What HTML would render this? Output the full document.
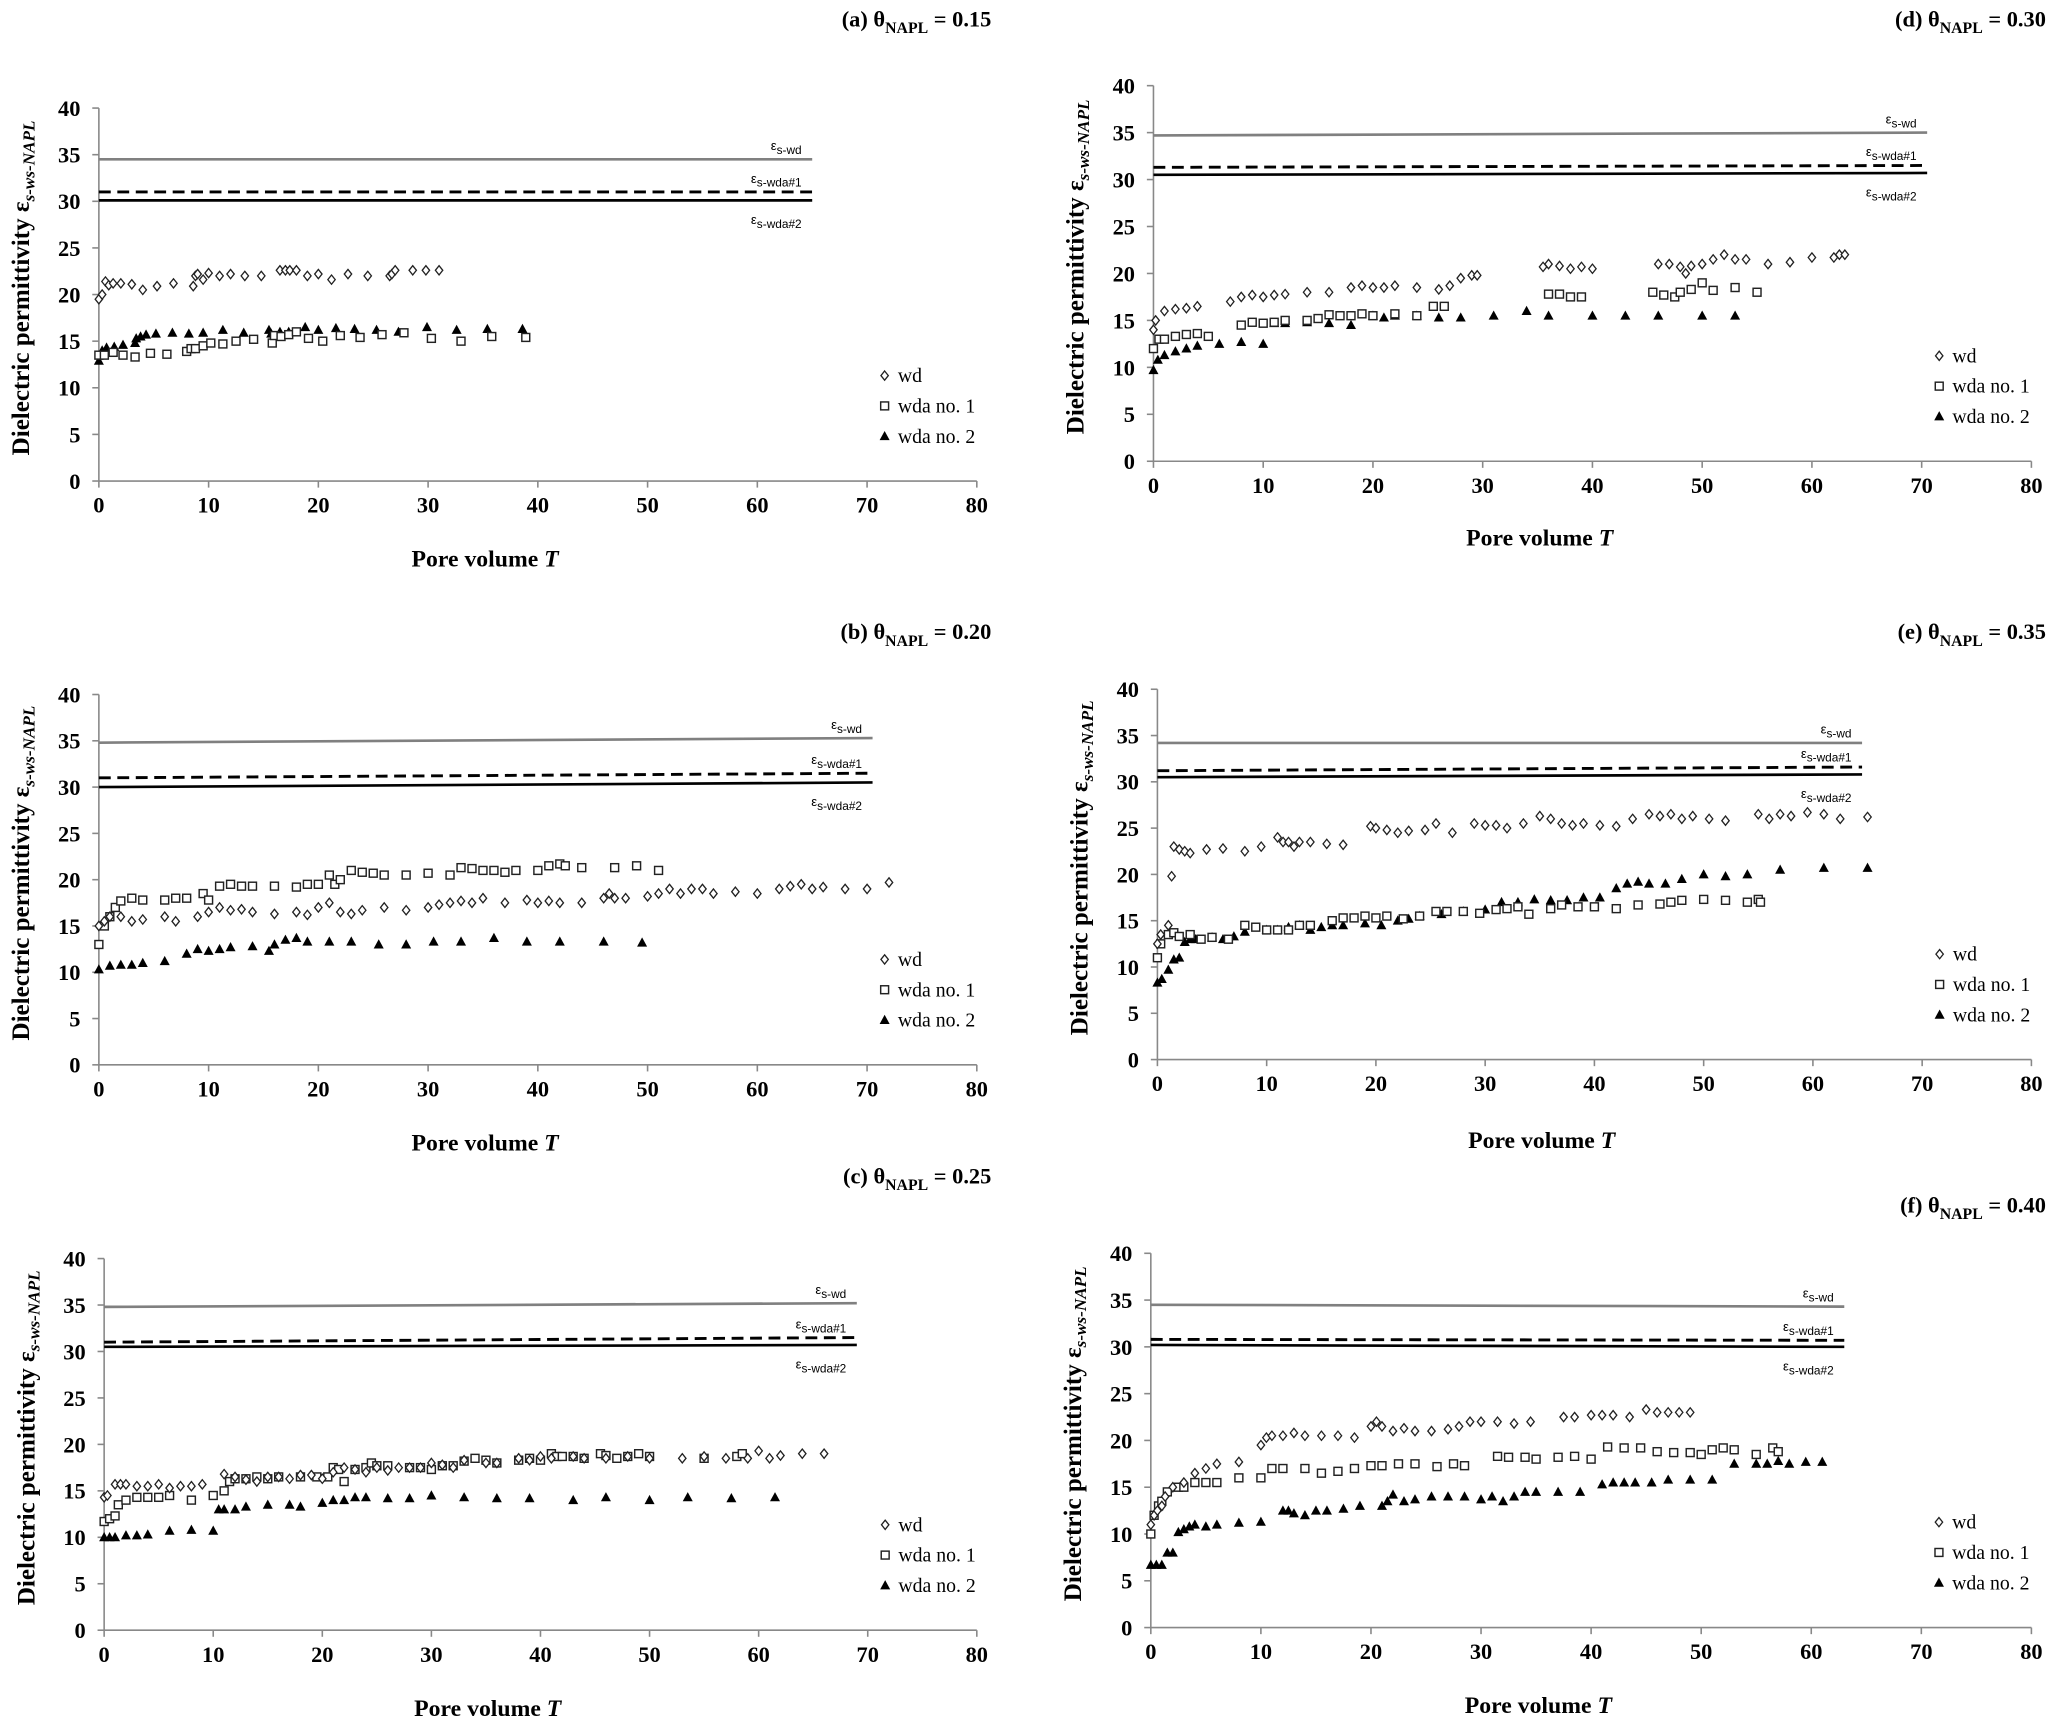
<!DOCTYPE html>
<html><head><meta charset="utf-8"><style>
html,body{margin:0;padding:0;background:#fff;}
svg{display:block;}
text{font-family:"Liberation Serif",serif;}
text.sans{font-family:"Liberation Sans",sans-serif;}
</style></head><body>
<svg id="fig" xmlns="http://www.w3.org/2000/svg" width="2067" height="1733" viewBox="0 0 1568 1315" preserveAspectRatio="none"></svg>
<script>
const xTicks=[0,10,20,30,40,50,60,70,80];
const yTicks=[0,5,10,15,20,25,30,35,40];
const seriesNames=["wd","wda no. 1","wda no. 2"];
// panel a
const a_wd=[[0,19.5],[0.3,20],[0.6,21.4],[0.9,21],[1.3,21.2],[2,21.2],[3,21.1],[4,20.5],[5.3,20.9],[6.8,21.2],[8.6,20.9],[8.8,22],[9,22.2],[9.5,21.6],[10,22.3],[11,22],[12,22.2],[13.3,22],[14.8,22],[16.5,22.6],[17,22.6],[17.4,22.6],[18,22.6],[19,22],[20,22.2],[21.2,21.6],[22.7,22.2],[24.5,22],[26.5,22],[26.7,22.2],[27,22.6],[28.6,22.6],[29.8,22.6],[31,22.6]];
const a_w1=[[0,13.5],[0.5,13.5],[1.3,13.8],[2.2,13.5],[3.3,13.3],[4.7,13.7],[6.2,13.6],[8,13.9],[8.4,14.2],[8.8,14.2],[9.5,14.5],[10.2,14.8],[11.3,14.7],[12.5,15],[14.1,15.2],[15.8,14.8],[16,15.6],[16.6,15.5],[17.3,15.7],[18,16],[19.1,15.3],[20.4,15],[22,15.6],[23.8,15.4],[25.8,15.7],[27.8,15.9],[30.3,15.3],[33,15],[35.8,15.5],[38.9,15.4]];
const a_w2=[[0,12.9],[0.3,14],[0.7,14.3],[1.4,14.4],[2.2,14.6],[3.3,14.8],[3.4,15.3],[3.8,15.5],[4.3,15.7],[5.2,15.8],[6.7,15.9],[8.2,15.8],[9.5,15.9],[11.3,16.2],[13.2,15.9],[15.5,16.2],[15.7,15.8],[16.5,16],[17.3,16],[18.8,16.5],[20,16.2],[21.6,16.4],[23.3,16.3],[25.3,16.2],[27.3,16],[29.9,16.5],[32.6,16.2],[35.4,16.3],[38.6,16.3]];
const a_ref=[[65,34.5,34.5],[65,31,31],[65,30.1,30.1]];
// panel d
const d_wd=[[0,14],[0.2,15],[1,16],[2,16.2],[3,16.3],[4,16.5],[7,17],[8,17.5],[9,17.7],[10,17.5],[11,17.7],[12,17.8],[14,18],[16,18],[18,18.5],[19,18.7],[20,18.5],[21,18.5],[22,18.7],[24,18.5],[26,18.3],[27,18.7],[28,19.5],[29,19.8],[29.5,19.8],[35.5,20.7],[36,21],[37,20.8],[38,20.5],[39,20.7],[40,20.5],[46,21],[47,21],[48,20.7],[48.5,20],[49,20.8],[50,21],[51,21.5],[52,22],[53,21.5],[54,21.5],[56,21],[58,21.2],[60,21.7],[62,21.7],[62.5,22],[63,22]];
const d_w1=[[0,12],[0.5,13],[1,13],[2,13.3],[3,13.5],[4,13.6],[5,13.3],[8,14.5],[9,14.8],[10,14.7],[11,14.8],[12,15],[14,15],[15,15.2],[16,15.6],[17,15.5],[18,15.5],[19,15.7],[20,15.5],[22,15.7],[24,15.5],[25.5,16.5],[26.5,16.5],[36,17.8],[37,17.8],[38,17.5],[39,17.5],[45.5,18],[46.5,17.7],[47.5,17.5],[48,18],[49,18.3],[50,19],[51,18.2],[53,18.5],[55,18]];
const d_w2=[[0,9.7],[0.4,10.8],[1,11.3],[2,11.7],[3,12],[4,12.3],[6,12.5],[8,12.7],[10,12.5],[11,14.7],[12,14.7],[14,14.8],[16,14.7],[18,14.5],[20,15.5],[21,15.3],[22,15.5],[24,15.5],[26,15.3],[28,15.3],[31,15.5],[34,16],[36,15.5],[40,15.5],[43,15.5],[46,15.5],[50,15.5],[53,15.5]];
const d_ref=[[70.5,34.7,35],[70.5,31.3,31.5],[70.5,30.5,30.7]];
// panel b
const b_wd=[[0,15],[0.5,15.5],[1,16],[2,16],[3,15.5],[4,15.7],[6,16],[7,15.5],[9,16],[10,16.5],[11,17],[12,16.7],[13,16.8],[14,16.5],[16,16.3],[18,16.5],[19,16.2],[20,17],[21,17.5],[22,16.5],[23,16.3],[24,16.7],[26,17],[28,16.7],[30,17],[31,17.3],[32,17.5],[33,17.7],[34,17.5],[35,18],[37,17.5],[39,17.8],[40,17.5],[41,17.7],[42,17.5],[44,17.5],[46,18],[46.5,18.5],[47,18],[48,18],[50,18.2],[51,18.5],[52,19],[53,18.5],[54,19],[55,19],[56,18.5],[58,18.7],[60,18.5],[62,19],[63,19.3],[64,19.5],[65,19],[66,19.2],[68,19],[70,19],[72,19.7]];
const b_w1=[[0,13],[0.5,15],[1,16],[1.5,17],[2,17.7],[3,18],[4,17.8],[6,17.8],[7,18],[8,18],[9.5,18.5],[10,17.8],[11,19.3],[12,19.5],[13,19.3],[14,19.3],[16,19.3],[18,19.2],[19,19.5],[20,19.5],[21,20.5],[21.5,19.5],[22,20],[23,21],[24,20.8],[25,20.7],[26,20.5],[28,20.5],[30,20.7],[32,20.5],[33,21.3],[34,21.2],[35,21],[36,21],[37,20.8],[38,21],[40,21],[41,21.5],[42,21.7],[42.5,21.5],[44,21.3],[47,21.3],[49,21.5],[51,21]];
const b_w2=[[0,10.3],[1,10.7],[2,10.8],[3,10.8],[4,11],[6,11.2],[8,12],[9,12.5],[10,12.3],[11,12.5],[12,12.7],[14,12.8],[15.5,12.3],[16,13],[17,13.5],[18,13.7],[19,13.3],[21,13.3],[23,13.3],[25.5,13],[28,13],[30.5,13.3],[33,13.3],[36,13.7],[39,13.3],[42,13.3],[46,13.3],[49.5,13.2]];
const b_ref=[[70.5,34.8,35.3],[70.5,31,31.5],[70.5,30,30.5]];
// panel e
const e_wd=[[0,12.5],[0.3,13.5],[1,14.5],[1.3,19.8],[1.5,23],[2,22.7],[2.5,22.5],[3,22.3],[4.5,22.7],[6,22.8],[8,22.5],[9.5,23],[11,24],[11.5,23.5],[12,23.5],[12.5,23],[13,23.5],[14,23.5],[15.5,23.3],[17,23.2],[19.5,25.2],[20,25],[21,24.8],[22,24.5],[23,24.7],[24.5,24.8],[25.5,25.5],[27,24.5],[29,25.5],[30,25.3],[31,25.3],[32,25],[33.5,25.5],[35,26.3],[36,26],[37,25.5],[38,25.3],[39,25.5],[40.5,25.3],[42,25.2],[43.5,26],[45,26.5],[46,26.3],[47,26.5],[48,26],[49,26.3],[50.5,26],[52,25.8],[55,26.5],[56,26],[57,26.5],[58,26.3],[59.5,26.7],[61,26.5],[62.5,26],[65,26.2]];
const e_w1=[[0,11],[0.3,12.5],[1,13.5],[1.5,13.7],[2,13.3],[3,13.5],[4,13],[5,13.2],[6.5,13],[8,14.5],[9,14.3],[10,14],[11,14],[12,14],[13,14.5],[14,14.5],[16,15],[17,15.3],[18,15.3],[19,15.5],[20,15.3],[21,15.5],[22.5,15.2],[24,15.5],[25.5,16],[26.5,16],[28,16],[29.5,15.8],[31,16.2],[32,16.3],[33,16.5],[34,15.7],[36,16.3],[37,16.7],[38.5,16.5],[40,16.5],[42,16.3],[44,16.7],[46,16.8],[47,17],[48,17.2],[50,17.3],[52,17.2],[54,17],[55,17.3],[55.2,17]];
const e_w2=[[0,8.3],[0.4,8.7],[1,9.7],[1.5,10.8],[2,11],[2.5,12.7],[3,13],[3.5,13],[5,13.2],[6,13],[7,13.3],[8,13.8],[10,14],[11,14],[12,14.3],[13,14.5],[14,14],[15,14.3],[16,14.5],[17,14.5],[19,14.7],[20.5,14.5],[22,15],[23,15.2],[24,15.5],[26,15.7],[28,16],[30,16.2],[31.5,17],[33,17],[34.5,17.3],[36,17.2],[37.5,17.2],[39,17.5],[40.5,17.5],[42,18.5],[43,19],[44,19.2],[45,19],[46.5,19],[48,19.5],[50,20],[52,19.8],[54,20],[57,20.5],[61,20.7],[65,20.7]];
const e_ref=[[64.5,34.2,34.2],[64.5,31.2,31.6],[64.5,30.5,30.8]];
// panel c
const c_wd=[[0,14.3],[0.3,14.5],[1,15.7],[1.5,15.7],[2,15.7],[3,15.5],[4,15.5],[5,15.7],[6,15.3],[7,15.5],[8,15.5],[9,15.7],[11,16.8],[12,16.5],[13,16.2],[14,16],[15,16.5],[16,16.5],[17,16.3],[18,16.7],[19,16.7],[20,16.3],[21,17],[22,17.5],[23,17.3],[24,17],[25,17.5],[26,17.2],[27,17.5],[28,17.5],[29,17.5],[30,18],[31,17.8],[32,17.5],[33,18.3],[35,18],[36,18],[38,18.5],[39,18.3],[40,18.7],[41,18.5],[43,18.7],[44,18.5],[46,18.5],[48,18.7],[50,18.5],[53,18.5],[55,18.7],[57,18.5],[59,18.5],[60,19.3],[61,18.5],[62,18.8],[64,19],[66,19]];
const c_w1=[[0,11.7],[0.5,12],[1,12.3],[1.3,13.5],[2,14],[3,14.3],[4,14.3],[5,14.3],[6,14.5],[8,14],[10,14.5],[11,15],[11.5,16],[12,16.3],[13,16.3],[14,16.5],[15,16.3],[16,16.5],[18,16.5],[19.5,16.5],[20.5,16.5],[21,17.5],[21.5,17.3],[22,16],[23,17.3],[24,17.5],[24.5,18],[25,17.7],[26,17.7],[28,17.5],[29,17.5],[30,17.3],[31,17.7],[32,17.7],[33,18.2],[34,18.5],[35,18.3],[36,18],[38,18.3],[39,18.5],[40,18.3],[41,19],[41.5,18.7],[42,18.7],[43,18.7],[44,18.5],[45.5,19],[46,18.8],[47,18.5],[48,18.7],[49,19],[50,18.7],[55,18.5],[58,18.7],[58.5,19]];
const c_w2=[[0,10],[0.5,10],[1,10],[2,10.2],[3,10.2],[4,10.3],[6,10.7],[8,10.8],[10,10.7],[10.5,13],[11,13],[12,13],[13,13.3],[15,13.5],[17,13.5],[18,13.3],[20,13.7],[21,14],[22,14],[23,14.3],[24,14.3],[26,14.2],[28,14.2],[30,14.5],[33,14.3],[36,14.2],[39,14.2],[43,14],[46,14.3],[50,14],[53.5,14.3],[57.5,14.2],[61.5,14.3]];
const c_ref=[[69,34.8,35.2],[69,31,31.5],[69,30.5,30.7]];
// panel f
const f_wd=[[0,11],[0.3,12],[0.6,12.5],[1,13],[1.3,14],[2,15],[3,15.5],[4,16.5],[5,17],[6,17.5],[8,17.7],[10,19.5],[10.5,20.3],[11,20.5],[12,20.5],[13,20.8],[14,20.5],[15.5,20.5],[17,20.5],[18.5,20.3],[20,21.5],[20.5,22],[21,21.5],[22,21],[23,21.3],[24,21],[25.5,21],[27,21.2],[28,21.5],[29,22],[30,22],[31.5,22],[33,21.8],[34.5,22],[37.5,22.5],[38.5,22.5],[40,22.7],[41,22.7],[42,22.7],[43.5,22.5],[45,23.3],[46,23],[47,23],[48,23],[49,23]];
const f_w1=[[0,10],[0.3,12],[0.7,13],[1,13.5],[1.5,14.5],[2.5,15],[3,15],[4,15.5],[5,15.5],[6,15.5],[8,16],[10,16],[11,17],[12,17],[14,17],[15.5,16.5],[17,16.7],[18.5,17],[20,17.3],[21,17.3],[22.5,17.5],[24,17.5],[26,17.2],[27.5,17.5],[28.5,17.3],[31.5,18.3],[32.5,18.2],[34,18.2],[35,18],[37,18.2],[38.5,18.3],[40,18],[41.5,19.3],[43,19.2],[44.5,19.2],[46,18.8],[47.5,18.7],[49,18.7],[50,18.5],[51,19],[52,19.2],[53,19],[55,18.5],[56.5,19.2],[57,18.8]];
const f_w2=[[0,6.7],[0.5,6.7],[1,6.7],[1.5,8],[2,8],[2.5,10.2],[3,10.5],[3.5,10.8],[4,11],[5,10.8],[6,11],[8,11.2],[10,11.3],[12,12.5],[12.5,12.5],[13,12.2],[14,12],[15,12.5],[16,12.5],[17.5,12.7],[19,13],[21,13],[21.5,13.5],[22,14.2],[23,13.5],[24,13.7],[25.5,14],[27,14],[28.5,14],[30,13.7],[31,14],[32,13.5],[33,14],[34,14.5],[35,14.5],[37,14.5],[39,14.5],[41,15.3],[42,15.5],[43,15.5],[44,15.5],[45.5,15.5],[47,15.8],[49,15.8],[51,15.8],[53,17.5],[55,17.5],[56,17.5],[57,17.8],[58,17.5],[59.5,17.7],[61,17.7]];
const f_ref=[[63,34.5,34.3],[63,30.8,30.7],[63,30.2,30]];

const NS="http://www.w3.org/2000/svg";
const svg=document.getElementById('fig');
function el(tag,attrs,parent,txt){const e=document.createElementNS(NS,tag);for(const k in attrs)e.setAttribute(k,attrs[k]);if(txt!==undefined)e.textContent=txt;(parent||svg).appendChild(e);return e;}

function panel(id,letter,theta,L,R,B,T,titleY,xlabY,wd,w1,w2,ref){
  const g=el('g',{});
  
  
  const sx=v=>L+(R-L)*v/80, sy=v=>B-(B-T)*v/40;
  const t=el('text',{x:R+11,y:titleY,'text-anchor':'end','font-size':17,'font-weight':'bold'},g);
  
  
  el('tspan',{},t,'('+letter+') θ');
  el('tspan',{'font-size':12,dy:5},t,'NAPL');
  el('tspan',{dy:-5},t,' = '+theta);
  const ax=el('g',{stroke:'#888','stroke-width':1.2},g);
  
  
  el('line',{x1:L,y1:T,x2:L,y2:B},ax);
  el('line',{x1:L,y1:B,x2:R,y2:B},ax);
  yTicks.forEach(v=>{
    el('line',{x1:L-5,y1:sy(v),x2:L,y2:sy(v)},ax);
    const tx=el('text',{x:L-14,y:sy(v)+6,'text-anchor':'end','font-size':17,'font-weight':'bold',fill:'#000'},g,String(v));
    
    
  });
  xTicks.forEach(v=>{
    el('line',{x1:sx(v),y1:B,x2:sx(v),y2:B+5},ax);
    const tx=el('text',{x:sx(v),y:B+24,'text-anchor':'middle','font-size':17,'font-weight':'bold',fill:'#000'},g,String(v));
    
    
  });
  const xl=el('text',{x:(L+R)/2-40,y:xlabY,'text-anchor':'middle','font-size':18,'font-weight':'bold'},g);
  
  
  el('tspan',{},xl,'Pore volume ');
  el('tspan',{'font-style':'italic'},xl,'T');
  const cy=(T+B)/2-5;
  const yl=el('text',{transform:`translate(${L-53},${cy}) rotate(-90)`,'text-anchor':'middle','font-size':19,'font-weight':'bold'},g);
  
  
  el('tspan',{},yl,'Dielectric permittivity  ε');
  el('tspan',{'font-size':13,dy:4,'font-style':'italic'},yl,'s-ws-NAPL');
  const refStyles=[{stroke:'#808080','stroke-width':2},{stroke:'#000','stroke-width':2.2,'stroke-dasharray':'9,5'},{stroke:'#000','stroke-width':2}];
  const refLabels=['s-wd','s-wda#1','s-wda#2'];
  const refNames=['ref-line-wd','ref-line-wda1','ref-line-wda2'];
  ref.forEach((r,i)=>{
    const ln=el('line',Object.assign({x1:sx(0),y1:sy(r[1]),x2:sx(r[0]),y2:sy(r[2])},refStyles[i]),g);
    
    
    const ly=i<2?sy(r[2])-7:sy(r[2])+18;
    const lt=el('text',{x:sx(r[0])-8,y:ly,'text-anchor':'end','font-size':10,'class':'sans'},g);
    
    
    el('tspan',{},lt,'ε');
    el('tspan',{'font-size':9,dy:3},lt,refLabels[i]);
  });
  function marker(kind,x,y,parent){
    if(kind===0) return el('path',{d:`M${x},${y-3.5}L${x+2.8},${y}L${x},${y+3.5}L${x-2.8},${y}Z`,fill:'#fff',stroke:'#222','stroke-width':1},parent);
    if(kind===1) return el('rect',{x:x-3,y:y-3,width:6,height:6,fill:'#fff',stroke:'#222','stroke-width':1.1},parent);
    return el('path',{d:`M${x},${y-4}L${x+3.8},${y+3}L${x-3.8},${y+3}Z`,fill:'#000'},parent);
  }
  const sers=[w2,w1,wd];const kinds=[2,1,0];const snames=['series-wda2','series-wda1','series-wd'];
  sers.forEach((s,i)=>{
    const sg=el('g',{},g);
    
    
    s.forEach(p=>{
      const m=marker(kinds[i],sx(p[0]),sy(p[1]),sg);
      
      
    });
  });
  const lx=L+(R-L)*0.895, offs=[-80,-57,-34];
  seriesNames.forEach((n,i)=>{
    const le=el('g',{},g);
    
    
    marker(i,lx,B+offs[i],le);
    el('text',{x:lx+10,y:B+offs[i]+5,'font-size':15},le,n);
  });
}
panel('a','a','0.15',75,741,365,82,20,430,a_wd,a_w1,a_w2,a_ref);
panel('d','d','0.30',875,1541,350,65,20,414,d_wd,d_w1,d_w2,d_ref);
panel('b','b','0.20',75,741,808,527,485,873,b_wd,b_w1,b_w2,b_ref);
panel('e','e','0.35',878,1541,804,523,485,871,e_wd,e_w1,e_w2,e_ref);
panel('c','c','0.25',79,741,1237,955,898,1302,c_wd,c_w1,c_w2,c_ref);
panel('f','f','0.40',873,1541,1235,951,920,1300,f_wd,f_w1,f_w2,f_ref);
</script>
</body></html>
